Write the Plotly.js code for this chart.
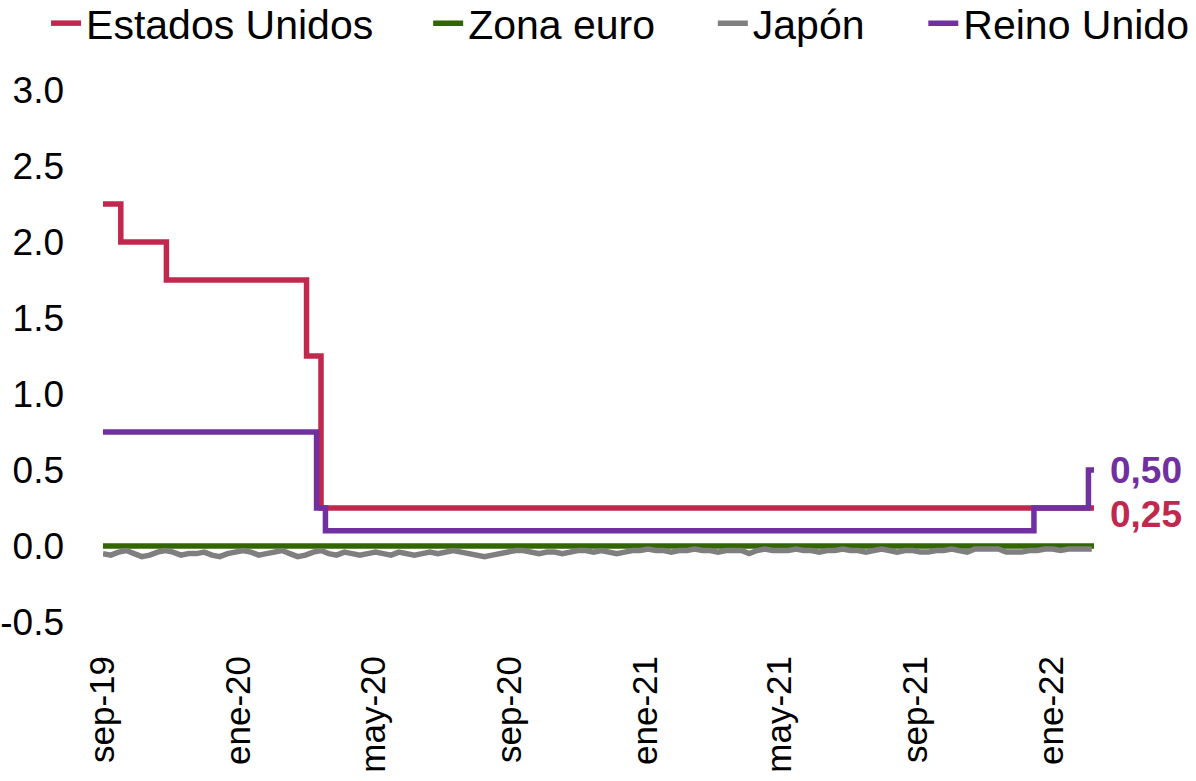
<!DOCTYPE html>
<html>
<head>
<meta charset="utf-8">
<script src="https://cdn.plot.ly/plotly-3.0.1.min.js"></script>
<style>
  html, body { margin: 0; padding: 0; background: #fff; }
  #chart { width: 1196px; height: 781px; }
</style>
</head>
<body>
<div id="chart"></div>
<script>
// policy rates, step changes (date, rate)
var usDates = ['2019-09-01', '2019-09-17', '2019-10-28', '2020-03-02', '2020-03-15', '2022-02-08'];
var usRates = [2.25, 2.0, 1.75, 1.25, 0.25, 0.25];

var ukDates = ['2019-09-01', '2020-03-11', '2020-03-19', '2021-12-16', '2022-02-03', '2022-02-08'];
var ukRates = [0.75, 0.25, 0.1, 0.25, 0.5, 0.5];

var euDates = ['2019-09-01', '2022-02-08'];
var euRates = [0, 0];

// Japan overnight rate, weekly readings from 2019-09-01
var jpStart = '2019-09-01';
var jpRates = [
    -0.05, -0.06, -0.04, -0.03, -0.05, -0.07, -0.06, -0.04, -0.03, -0.04, -0.06, -0.05, -0.05, -0.04, -0.06, -0.07, -0.05, -0.04,
    -0.03, -0.04, -0.06, -0.05, -0.04, -0.03, -0.05, -0.07, -0.06, -0.04, -0.03, -0.05, -0.06, -0.04, -0.05, -0.06, -0.05, -0.04,
    -0.05, -0.06, -0.04, -0.05, -0.06, -0.05, -0.04, -0.05, -0.04, -0.03, -0.04, -0.05, -0.06, -0.07, -0.06, -0.05, -0.04,
    -0.03, -0.03, -0.04, -0.05, -0.04, -0.04, -0.05, -0.04, -0.03, -0.03, -0.04, -0.03, -0.04, -0.05, -0.04, -0.03, -0.03,
    -0.02, -0.03, -0.03, -0.04, -0.03, -0.03, -0.02, -0.03, -0.03, -0.04, -0.03, -0.03, -0.03, -0.05, -0.03, -0.02, -0.03, -0.03,
    -0.03, -0.02, -0.03, -0.03, -0.04, -0.03, -0.03, -0.02, -0.03, -0.03, -0.04, -0.03, -0.02, -0.03, -0.04, -0.03, -0.03,
    -0.04, -0.04, -0.03, -0.03, -0.02, -0.03, -0.04, -0.02, -0.02, -0.02, -0.02, -0.04, -0.04, -0.04, -0.03, -0.03, -0.02, -0.02,
    -0.03, -0.02, -0.02, -0.02, -0.02
];

var xTickVals = ['2019-09-01', '2020-01-01', '2020-05-01', '2020-09-01', '2021-01-01', '2021-05-01', '2021-09-01', '2022-01-01'];
var xTickText = ['sep-19', 'ene-20', 'may-20', 'sep-20', 'ene-21', 'may-21', 'sep-21', 'ene-22'];
var yTickVals = [-0.5, 0, 0.5, 1, 1.5, 2, 2.5, 3];
var yTickText = ['-0.5', '0.0', '0.5', '1.0', '1.5', '2.0', '2.5', '3.0'];

var jpDates = [];
var d0 = new Date(jpStart + 'T00:00:00Z');
for (var i = 0; i < jpRates.length; i++) {
    var d = new Date(d0.getTime() + i * 7 * 86400000);
    jpDates.push(d.toISOString().slice(0, 10));
}

var colUS = '#C0284E';
var colEU = '#336600';
var colJP = '#7F7F7F';
var colUK = '#7030A0';

var traceUS = { x: usDates, y: usRates, mode: 'lines', name: 'Estados Unidos', legend: 'legend',
    line: { color: colUS, width: 5.5, shape: 'hv' } };
var traceEU = { x: euDates, y: euRates, mode: 'lines', name: 'Zona euro', legend: 'legend2',
    line: { color: colEU, width: 5.5 } };
var traceJP = { x: jpDates, y: jpRates, mode: 'lines', name: 'Japón', legend: 'legend3',
    line: { color: colJP, width: 5.5 } };
var traceUK = { x: ukDates, y: ukRates, mode: 'lines', name: 'Reino Unido', legend: 'legend4',
    line: { color: colUK, width: 5.5, shape: 'hv' } };

var font = 'Liberation Sans, Arial, sans-serif';

function legendAt(x) {
    return {
        orientation: 'h',
        xref: 'container', yref: 'paper',
        x: x, xanchor: 'left',
        y: 1.188, yanchor: 'top',
        font: { family: font, size: 41, color: '#000' },
        bgcolor: 'rgba(0,0,0,0)'
    };
}

var layout = {
    width: 1196,
    height: 781,
    margin: { l: 103, r: 102, t: 90, b: 159, autoexpand: false },
    paper_bgcolor: '#fff',
    plot_bgcolor: '#fff',
    font: { family: font, size: 38, color: '#000' },
    showlegend: true,
    legend: legendAt(0.0385),
    legend2: legendAt(0.358),
    legend3: legendAt(0.596),
    legend4: legendAt(0.772),
    xaxis: {
        type: 'date',
        range: ['2019-09-01', '2022-02-08'],
        tickmode: 'array',
        tickvals: xTickVals,
        ticktext: xTickText,
        tickangle: -90,
        ticks: '',
        showgrid: false,
        zeroline: false,
        showline: false,
        ticklabelstandoff: 26,
        tickfont: { family: font, size: 35 }
    },
    yaxis: {
        range: [-0.5, 3.0],
        tickmode: 'array',
        tickvals: yTickVals,
        ticktext: yTickText,
        ticks: '',
        showgrid: false,
        zeroline: false,
        showline: false,
        ticklabelstandoff: 38,
        tickfont: { family: font, size: 37 }
    },
    annotations: [
        { xref: 'paper', yref: 'y', x: 1.014, y: 0.5, xanchor: 'left', showarrow: false,
          text: '<b>0,50</b>', font: { family: font, size: 37, color: colUK } },
        { xref: 'paper', yref: 'y', x: 1.014, y: 0.25, yshift: -6, xanchor: 'left', showarrow: false,
          text: '<b>0,25</b>', font: { family: font, size: 37, color: colUS } }
    ]
};

Plotly.newPlot('chart', [traceUS, traceEU, traceJP, traceUK], layout, { displayModeBar: false });
</script>
</body>
</html>
